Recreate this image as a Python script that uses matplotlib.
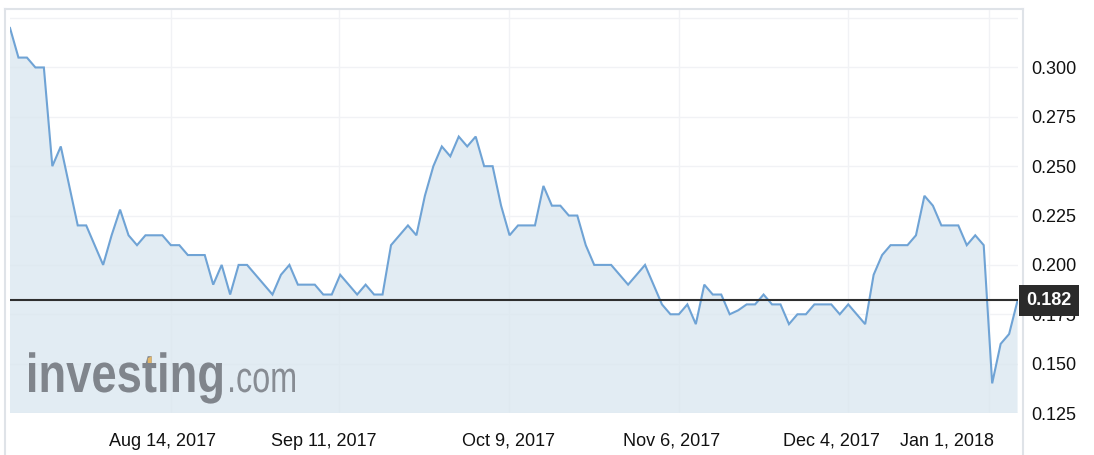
import numpy as np
import matplotlib
matplotlib.use("Agg")
import matplotlib.pyplot as plt
from matplotlib.lines import Line2D
from matplotlib.patches import Polygon, PathPatch
from matplotlib.textpath import TextPath
from matplotlib.font_manager import FontProperties
import matplotlib.transforms as mtransforms

plt.rcParams["font.family"] = ["Liberation Sans", "DejaVu Sans"]

# Precio diario (sesiones de bolsa)
prices = [
    0.320, 0.305, 0.305, 0.300, 0.300, 0.250, 0.260, 0.240, 0.220, 0.220,
    0.210, 0.200, 0.215, 0.228, 0.215, 0.210, 0.215, 0.215, 0.215, 0.210,
    0.210, 0.205, 0.205, 0.205, 0.190, 0.200, 0.185, 0.200, 0.200, 0.195,
    0.190, 0.185, 0.195, 0.200, 0.190, 0.190, 0.190, 0.185, 0.185, 0.195,
    0.190, 0.185, 0.190, 0.185, 0.185, 0.210, 0.215, 0.220, 0.215, 0.235,
    0.250, 0.260, 0.255, 0.265, 0.260, 0.265, 0.250, 0.250, 0.230, 0.215,
    0.220, 0.220, 0.220, 0.240, 0.230, 0.230, 0.225, 0.225, 0.210, 0.200,
    0.200, 0.200, 0.195, 0.190, 0.195, 0.200, 0.190, 0.180, 0.175, 0.175,
    0.180, 0.170, 0.190, 0.185, 0.185, 0.175, 0.177, 0.180, 0.180, 0.185,
    0.180, 0.180, 0.170, 0.175, 0.175, 0.180, 0.180, 0.180, 0.175, 0.180,
    0.175, 0.170, 0.195, 0.205, 0.210, 0.210, 0.210, 0.215, 0.235, 0.230,
    0.220, 0.220, 0.220, 0.210, 0.215, 0.210, 0.140, 0.160, 0.165, 0.182,
]
last_price = 0.182

# Fechas del eje x (posicion en sesiones) y etiquetas
date_grid_pos = [19.0, 38.9, 58.9, 79.0, 99.0, 115.6]
date_label_pos = [18.0, 37.0, 58.9, 78.1, 97.0, 110.7]
date_labels = ["Aug 14, 2017", "Sep 11, 2017", "Oct 9, 2017",
               "Nov 6, 2017", "Dec 4, 2017", "Jan 1, 2018"]

price_ticks = [0.125, 0.150, 0.175, 0.200, 0.225, 0.250, 0.275, 0.300, 0.325]
price_labels = ["0.125", "0.150", "0.175", "0.200", "0.225", "0.250", "0.275", "0.300", ""]

W, H = 1094, 455
fig = plt.figure(figsize=(W / 100, H / 100), dpi=100)
ax = fig.add_axes([10 / W, (H - 413) / H, 1008 / W, 403 / H])
ax.patch.set_facecolor("none")

x = np.arange(len(prices))
ax.fill_between(x, prices, 0, color="#d9e6ef", alpha=0.75, lw=0, zorder=2)
ax.plot(x, prices, color="#6fa3d5", lw=1.5, zorder=3, solid_joinstyle="miter")
ax.axhline(last_price, color="#2e2e2e", lw=1.5, zorder=4)

ax.set_xlim(0, len(prices) - 0.95)
ax.set_ylim(0.1255, 0.3291)

ax.set_xticks(date_grid_pos)
ax.set_xticklabels([])
ax.set_yticks(price_ticks)
ax.set_yticklabels(price_labels)
ax.yaxis.tick_right()
ax.tick_params(axis="both", length=0)
ax.tick_params(axis="y", pad=9.5, labelsize=13, labelcolor="#111111")
for lbl in ax.get_yticklabels():
    lbl.set_horizontalalignment("left")
ax.grid(True, color="#f1f2f5", lw=1.0, zorder=0)
for s in ax.spines.values():
    s.set_visible(False)

# Etiquetas de fechas
trans = mtransforms.blended_transform_factory(ax.transData, ax.transAxes)
for pos, lab in zip(date_label_pos, date_labels):
    ax.text(pos, -28 / 403, lab, transform=trans, ha="center", va="center",
            fontsize=13, color="#111111", clip_on=False)

# Caja con el ultimo precio
trans_y = mtransforms.blended_transform_factory(ax.transAxes, ax.transData)
ax.text(1.0 + 31 / 1008, last_price, f"{last_price:.3f}", transform=trans_y,
        ha="center", va="center", fontsize=13, fontweight="bold", color="white",
        bbox=dict(boxstyle="square,pad=0.4", fc="#2b2b2b", ec="none"),
        zorder=6, clip_on=False)


# Marca de agua (texto escalado a la caja del logo)
def logo_text(s, x0, x1, base, xheight, weight, color):
    fp = FontProperties(family="Liberation Sans", weight=weight)
    p = TextPath((0, 0), s, size=1, prop=fp)
    xh = TextPath((0, 0), "x", size=1, prop=fp).get_extents().y1
    ext = p.get_extents()
    sx = (x1 - x0) / ext.width
    sy = xheight / xh
    tr = (mtransforms.Affine2D().translate(-ext.x0, 0).scale(sx / W, sy / H)
          .translate(x0 / W, (H - base) / H) + fig.transFigure)
    fig.add_artist(PathPatch(p, transform=tr, fc=color, ec="none", alpha=0.85))
    return fp, ext.x0, sx, sy, xh


fp, off, sx, sy, xh = logo_text("investing", 29, 222, 392, 29, "bold", "#6f737a")
logo_text(".com", 230, 295, 392, 23, "normal", "#777b82")

# acento dorado sobre la "t"
v = TextPath((0, 0), "invest", size=1, prop=fp).vertices
x_s = TextPath((0, 0), "inves", size=1, prop=fp).get_extents().x1
stem = v[(v[:, 1] > xh * 1.05) & (v[:, 0] > x_s)]
tx0 = 29 + (stem[:, 0].min() - off) * sx
tx1 = 29 + (stem[:, 0].max() - off) * sx
ttop = 392 - stem[:, 1].max() * sy
fig.add_artist(Polygon([[tx0 / W, 1 - (392 - xh * sy) / H],
                        [tx0 / W, 1 - (ttop + 2) / H],
                        [tx1 / W, 1 - ttop / H],
                        [tx1 / W, 1 - (392 - xh * sy) / H]],
                       closed=True, transform=fig.transFigure,
                       fc="#e2b66a", ec="none"))

# Marco gris claro
frame_col = "#dfe3e8"
for xs, ys in [([5, 5], [455, 9]), ([5, 1023], [9, 9]), ([1023, 1023], [9, 455])]:
    fig.add_artist(Line2D([v / W for v in xs], [1 - v / H for v in ys],
                          color=frame_col, lw=1.5, transform=fig.transFigure,
                          zorder=-1))

fig.savefig("out.png", dpi=100)
